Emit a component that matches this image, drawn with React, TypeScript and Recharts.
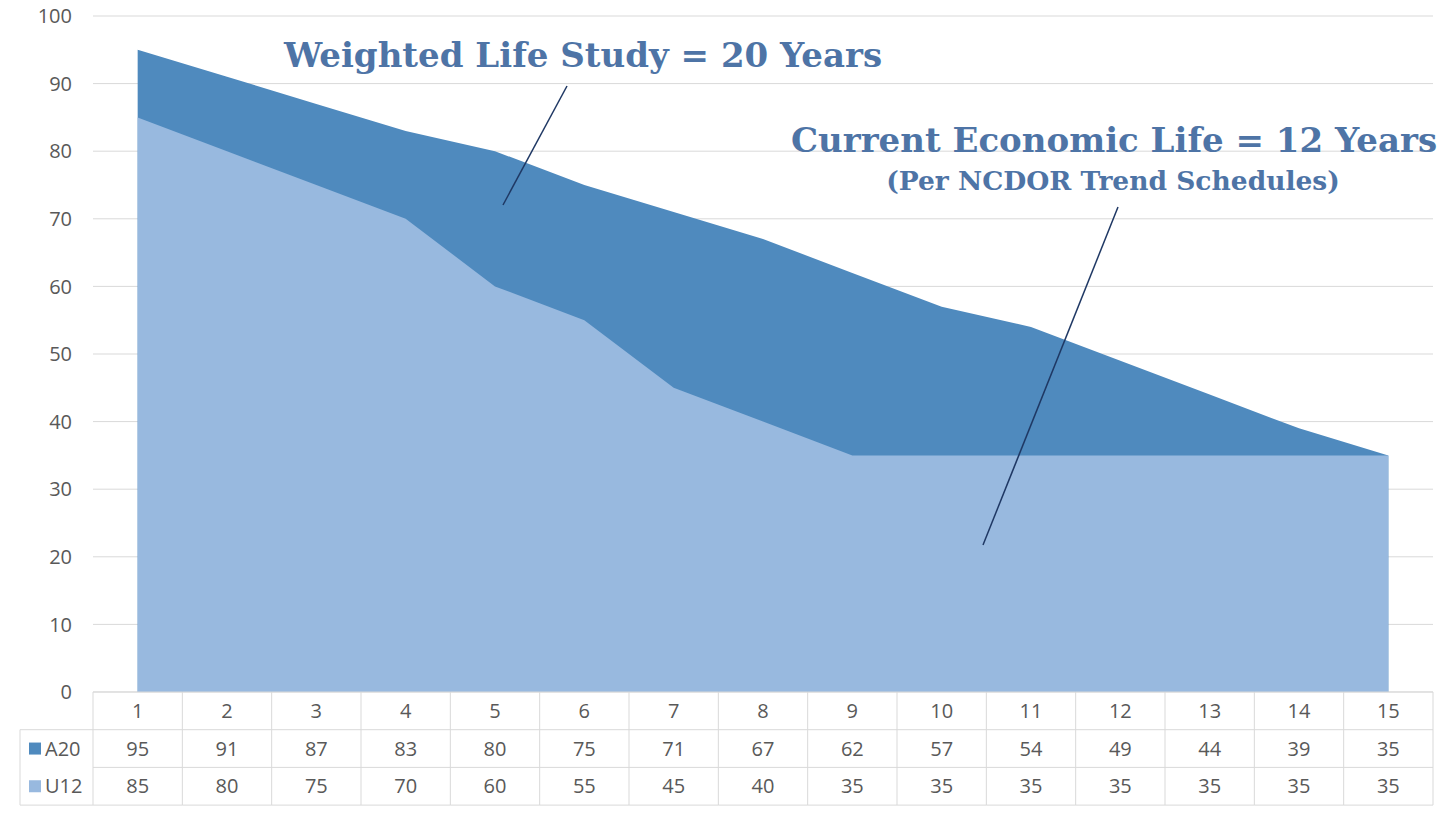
import { Area, AreaChart, CartesianGrid, XAxis, YAxis } from "recharts";

const years = [1, 2, 3, 4, 5, 6, 7, 8, 9, 10, 11, 12, 13, 14, 15];
const a20 = [95, 91, 87, 83, 80, 75, 71, 67, 62, 57, 54, 49, 44, 39, 35];
const u12 = [85, 80, 75, 70, 60, 55, 45, 40, 35, 35, 35, 35, 35, 35, 35];
const yTicks = [0, 10, 20, 30, 40, 50, 60, 70, 80, 90, 100];

const data = years.map((y, i) => ({ year: y, A20: a20[i], U12: u12[i] }));

const W = 1441;
const H = 815;
const LEFT = 93;
const RIGHT = 8;
const COL_W = (W - LEFT - RIGHT) / years.length;
const ROW_H = 37.7;

const DARK = "#4f8abe";
const LIGHT = "#98b9df";
const GRID = "#d9d9d9";
const TXT = "#595959";
const NOTE = "#4e74a6";
const FONT = "'Open Sans', sans-serif";

// one column of the data table under the axis
const TableTick = (props: any) => {
  const { x, y, index } = props;
  const l = x - COL_W / 2;
  const r = x + COL_W / 2;
  const rows = [years[index], a20[index], u12[index]];
  return (
    <g>
      {[0, 1, 2, 3].map((k) => (
        <line key={`h${k}`} x1={l} x2={r} y1={y + k * ROW_H} y2={y + k * ROW_H} stroke={GRID} />
      ))}
      <line x1={r} x2={r} y1={y} y2={y + 3 * ROW_H} stroke={GRID} />
      {index === 0 && <line x1={l} x2={l} y1={y} y2={y + 3 * ROW_H} stroke={GRID} />}
      {rows.map((v, k) => (
        <text
          key={`t${k}`}
          x={x}
          y={y + k * ROW_H + ROW_H / 2 + 7}
          textAnchor="middle"
          fill={TXT}
          fontSize={20}
          fontFamily={FONT}
        >
          {v}
        </text>
      ))}
      {index === 0 && (
        <g>
          <line x1={20} x2={l} y1={y + ROW_H} y2={y + ROW_H} stroke={GRID} />
          <line x1={20} x2={l} y1={y + 3 * ROW_H} y2={y + 3 * ROW_H} stroke={GRID} />
          <line x1={20} x2={20} y1={y + ROW_H} y2={y + 3 * ROW_H} stroke={GRID} />
          {[
            ["A20", DARK],
            ["U12", LIGHT],
          ].map(([name, color], k) => (
            <g key={name}>
              <rect x={29} y={y + (k + 1) * ROW_H + ROW_H / 2 - 6} width={12} height={12} fill={color} />
              <text
                x={45}
                y={y + (k + 1) * ROW_H + ROW_H / 2 + 7}
                fill={TXT}
                fontSize={20}
                fontFamily={FONT}
              >
                {name}
              </text>
            </g>
          ))}
        </g>
      )}
    </g>
  );
};

const App = () => {
  return (
    <div style={{ position: "absolute", left: 0, top: 0, width: W, height: H, background: "#fff" }}>
      <AreaChart width={W} height={H} data={data} margin={{ top: 16, right: RIGHT, bottom: 10, left: 0 }}>
        <CartesianGrid vertical={false} stroke={GRID} />
        <XAxis
          dataKey="year"
          height={113}
          axisLine={false}
          tickLine={false}
          tickSize={0}
          tickMargin={0}
          interval={0}
          padding={{ left: COL_W / 2, right: COL_W / 2 }}
          tick={<TableTick />}
        />
        <YAxis
          width={LEFT}
          domain={[0, 100]}
          ticks={yTicks}
          axisLine={false}
          tickLine={false}
          tickSize={0}
          tickMargin={21}
          tick={{ fill: TXT, fontSize: 20, fontFamily: FONT }}
        />
        <Area dataKey="A20" type="linear" stroke="none" fill={DARK} fillOpacity={1} isAnimationActive={false} />
        <Area dataKey="U12" type="linear" stroke="none" fill={LIGHT} fillOpacity={1} isAnimationActive={false} />
      </AreaChart>
      <svg width={W} height={H} style={{ position: "absolute", left: 0, top: 0, pointerEvents: "none" }}>
        <line x1={567} y1={86} x2={503} y2={205} stroke="#1f3864" strokeWidth={1.5} />
        <line x1={1118} y1={207} x2={983} y2={545} stroke="#1f3864" strokeWidth={1.5} />
        <g fontFamily="'DejaVu Serif', serif" fontWeight="bold" fill={NOTE} textAnchor="middle">
          <text x={583} y={67} fontSize={34}>Weighted Life Study = 20 Years</text>
          <text x={1114} y={152} fontSize={34}>Current Economic Life = 12 Years</text>
          <text x={1113} y={190} fontSize={26.5}>(Per NCDOR Trend Schedules)</text>
        </g>
      </svg>
    </div>
  );
};

export default App;
